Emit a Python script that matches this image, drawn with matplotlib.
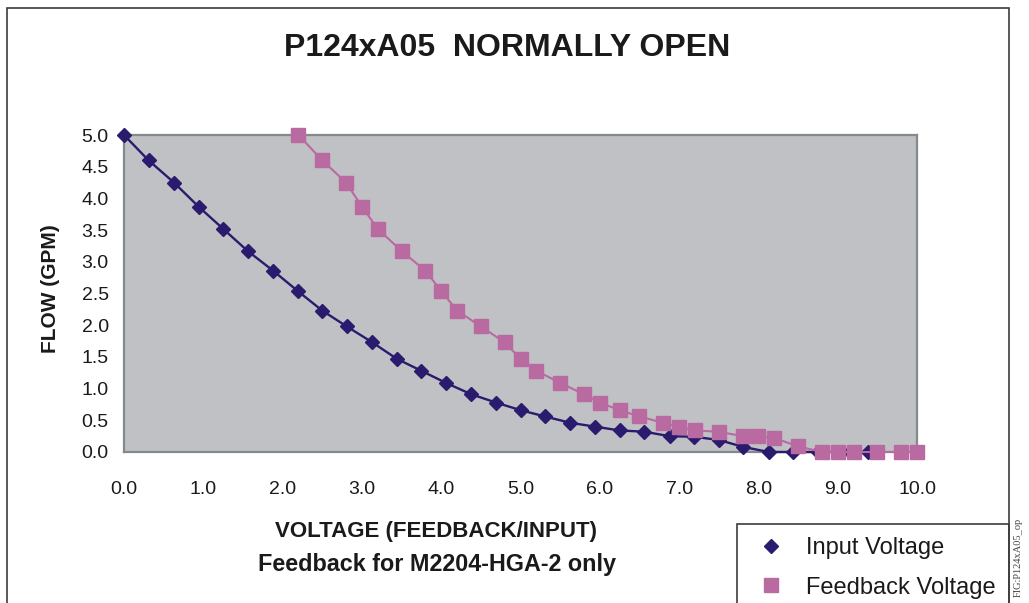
import matplotlib
matplotlib.use("Agg")
import matplotlib.pyplot as plt
from matplotlib.lines import Line2D
from matplotlib.patches import Rectangle

plt.rcParams['font.family'] = ['Liberation Sans', 'DejaVu Sans']

# values
input_volts = [0.00, 0.31, 0.63, 0.94, 1.25, 1.56, 1.88, 2.19, 2.50, 2.81, 3.13,
               3.44, 3.75, 4.06, 4.38, 4.69, 5.00, 5.31, 5.63, 5.94, 6.25, 6.56,
               6.88, 7.19, 7.50, 7.81, 8.13, 8.44, 8.75, 9.06, 9.38]
input_flow = [5.00, 4.60, 4.25, 3.87, 3.52, 3.17, 2.86, 2.54, 2.23, 1.98, 1.73,
              1.47, 1.28, 1.09, 0.91, 0.78, 0.66, 0.56, 0.46, 0.40, 0.34, 0.32,
              0.25, 0.24, 0.19, 0.08, 0.00, 0.00, 0.00, 0.00, 0.00]

feedback_volts = [2.20, 2.50, 2.80, 3.00, 3.20, 3.50, 3.80, 4.00, 4.20, 4.50, 4.80,
                  5.00, 5.20, 5.50, 5.80, 6.00, 6.25, 6.50, 6.80, 7.00, 7.20, 7.50,
                  7.80, 8.00, 8.20, 8.50, 8.80, 9.00, 9.20, 9.50, 9.80, 10.00]
feedback_flow = [5.00, 4.60, 4.25, 3.87, 3.52, 3.17, 2.86, 2.54, 2.23, 1.98, 1.73,
                 1.47, 1.28, 1.09, 0.91, 0.78, 0.66, 0.56, 0.46, 0.40, 0.34, 0.32,
                 0.25, 0.25, 0.22, 0.09, 0.00, 0.00, 0.00, 0.00, 0.00, 0.00]

x_ticks = [0, 1, 2, 3, 4, 5, 6, 7, 8, 9, 10]
y_ticks = [0, 0.5, 1, 1.5, 2, 2.5, 3, 3.5, 4, 4.5, 5]

navy = '#2a1b6e'
pink = '#b96aa1'

W, H = 1029, 603
fig = plt.figure(figsize=(W / 100, H / 100), dpi=100)
ax = fig.add_axes([124 / W, 1 - 452 / H, (917 - 124) / W, (452 - 135) / H])
ax.set_facecolor('#c0c1c5')

ax.plot(input_volts, input_flow, color=navy, lw=1.7, marker='D', ms=7,
        mec=navy, mfc=navy, clip_on=False, zorder=3)
ax.plot(feedback_volts, feedback_flow, color=pink, lw=1.5, marker='s', ms=10,
        mec=pink, mfc=pink, clip_on=False, zorder=4)

ax.set_xlim(0, 10)
ax.set_ylim(0, 5)
ax.set_xticks(x_ticks)
ax.set_yticks(y_ticks)
ax.set_xticklabels(['%.1f' % v for v in x_ticks])
ax.set_yticklabels(['%.1f' % v for v in y_ticks])
ax.tick_params(axis='both', length=0, labelsize=14, colors='#1a1a1a')
ax.tick_params(axis='x', pad=21)
ax.tick_params(axis='y', pad=11)
for sp in ax.spines.values():
    sp.set_color('#85898b')
    sp.set_linewidth(1.6)

# titles and axis labels
fig.text(507 / W, 1 - 48 / H, 'P124xA05  NORMALLY OPEN', ha='center', va='center',
         fontsize=23, fontweight='bold', color='#1a1a1a')
fig.text(50 / W, 1 - 289 / H, 'FLOW (GPM)', rotation=90, ha='center', va='center',
         fontsize=15, fontweight='bold', color='#1a1a1a')
fig.text(436 / W, 1 - 531 / H, 'VOLTAGE (FEEDBACK/INPUT)', ha='center', va='center',
         fontsize=16, fontweight='bold', color='#1a1a1a')
fig.text(437 / W, 1 - 564 / H, 'Feedback for M2204-HGA-2 only', ha='center', va='center',
         fontsize=16.8, fontweight='bold', color='#1a1a1a')

# outer frame and legend box (both run off the bottom edge)
fig.add_artist(Rectangle((7 / W, -0.1), (1009 - 7) / W, 1 - 8 / H + 0.1,
                         transform=fig.transFigure, fill=False, ec='#3c3c3c', lw=1.2))
fig.add_artist(Rectangle((737 / W, -0.1), (1009 - 737) / W, 1 - 524 / H + 0.1,
                         transform=fig.transFigure, fill=False, ec='#3c3c3c', lw=1.2))

handles = [Line2D([], [], ls='none', marker='D', ms=7, color=navy),
           Line2D([], [], ls='none', marker='s', ms=10, color=pink)]
fig.legend(handles, ['Input Voltage', 'Feedback Voltage'], loc='upper left',
           bbox_to_anchor=(759 / W, 1 - 537 / H), frameon=False, fontsize=17,
           borderpad=0, borderaxespad=0, handlelength=1.0, handletextpad=0.98,
           labelspacing=0.75, labelcolor='#1a1a1a')

fig.text(1018 / W, 1 - 557 / H, 'FIG:P124xA05_op', rotation=90, ha='center', va='center',
         fontsize=7.5, family='Liberation Serif', color='#444444')

fig.savefig('out.png', dpi=100)
